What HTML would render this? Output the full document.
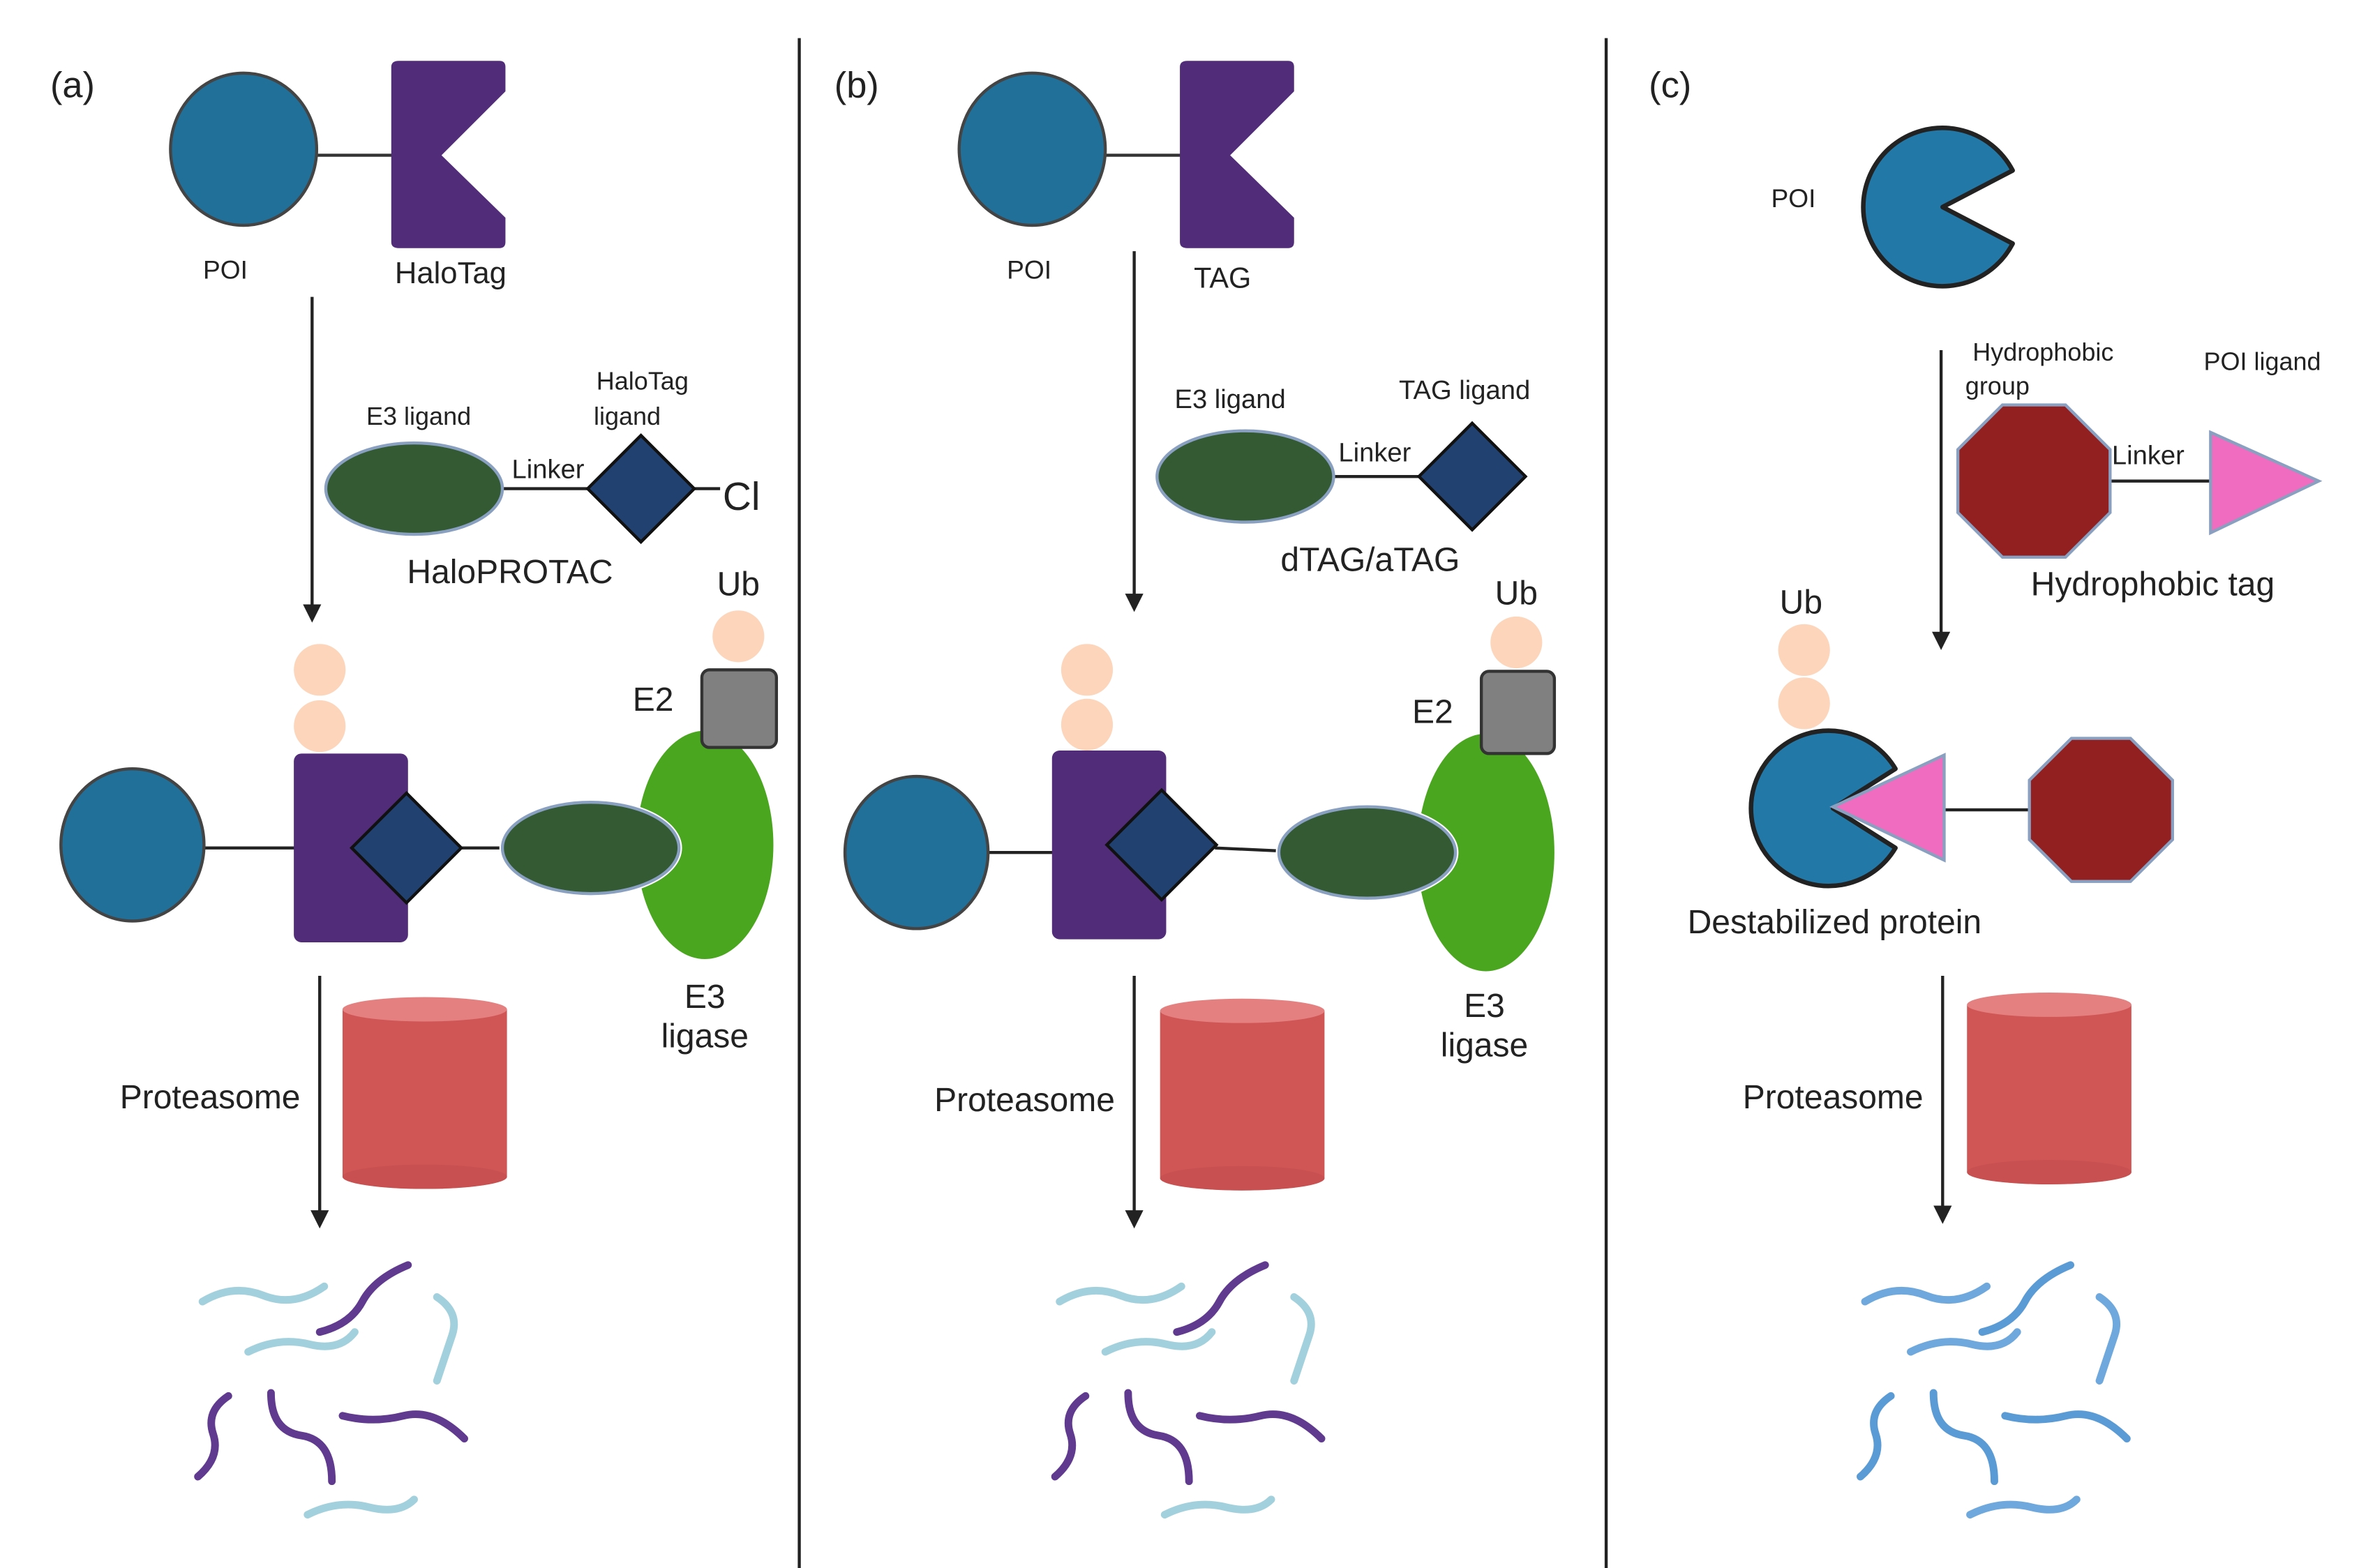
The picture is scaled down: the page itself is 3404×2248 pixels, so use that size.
<!DOCTYPE html>
<html><head><meta charset="utf-8"><style>
html,body{margin:0;padding:0;background:#fff}
svg{display:block}
text{font-family:"Liberation Sans",sans-serif;fill:#222}
</style></head><body>
<svg width="3404" height="2248" viewBox="0 0 1560 1030" preserveAspectRatio="none" xmlns="http://www.w3.org/2000/svg">
<defs>
<marker id="ah" markerWidth="12" markerHeight="12" refX="6" refY="6" orient="auto" markerUnits="userSpaceOnUse" viewBox="0 0 12 12"><path d="M0,0 L12,6 L0,12 z" fill="#222"/></marker>
<g id="halo">
<path d="M262,40 H328 Q332,40 332,44 V60 L290,102 L332,143 V159 Q332,163 328,163 H262 Q257,163 257,159 V44 Q257,40 262,40 z" fill="#512c78"/>
</g>
<g id="sq">
<path d="M133,855 q20,-12 40,-4 t40,-6" />
<path d="M287,852 q15,10 10,25 t-10,30" />
<path d="M163,888 q20,-10 40,-5 t30,-8" />
<path d="M202,995 q20,-10 40,-5 t30,-5" />
</g>
<g id="sq2">
<path d="M210,875 q20,-5 28,-20 t30,-24" />
<path d="M150,917 q-15,10 -10,25 t-10,28" />
<path d="M178,915 q0,25 20,28 t20,30" />
<path d="M225,930 q20,5 40,0 t40,15" />
</g>
<g id="cyl">
<path d="M0,8 V118 A54,8 0 0 0 108,118 V8 z" fill="#d05656"/>
<ellipse cx="54" cy="8" rx="54" ry="8" fill="#e58080"/>
<ellipse cx="54" cy="118" rx="54" ry="8" fill="#c04a4a" opacity="0.5"/>
</g>
</defs>

<line x1="525" y1="25" x2="525" y2="1030" stroke="#222" stroke-width="2"/>
<line x1="1055" y1="25" x2="1055" y2="1030" stroke="#222" stroke-width="2"/>

<!-- ===== Panel A ===== -->
<text x="33" y="64" font-size="24">(a)</text>
<line x1="208" y1="102" x2="258" y2="102" stroke="#333" stroke-width="2"/>
<ellipse cx="160" cy="98" rx="48" ry="50" fill="#21709a" stroke="#444" stroke-width="2"/>
<use href="#halo"/>
<text x="148" y="183" font-size="17" text-anchor="middle">POI</text>
<text x="296" y="186" font-size="20" text-anchor="middle">HaloTag</text>
<line x1="205" y1="195" x2="205" y2="403" stroke="#222" stroke-width="2" marker-end="url(#ah)"/>
<text x="275" y="279" font-size="16.5" text-anchor="middle">E3 ligand</text>
<text x="422" y="256" font-size="16.5" text-anchor="middle">HaloTag</text>
<text x="412" y="279" font-size="16.5" text-anchor="middle">ligand</text>
<line x1="330" y1="321" x2="390" y2="321" stroke="#222" stroke-width="2"/>
<line x1="456" y1="321" x2="473" y2="321" stroke="#222" stroke-width="2"/>
<ellipse cx="272" cy="321" rx="58" ry="30" fill="#335a32" stroke="#8aa0c0" stroke-width="2"/>
<polygon points="421,286 456,321 421,356 386,321" fill="#214270" stroke="#111" stroke-width="2"/>
<text x="360" y="314" font-size="17.5" text-anchor="middle">Linker</text>
<text x="487" y="335" font-size="26" text-anchor="middle">Cl</text>
<text x="335" y="383" font-size="22" text-anchor="middle">HaloPROTAC</text>
<text x="485" y="391" font-size="22" text-anchor="middle">Ub</text>
<circle cx="485" cy="418" r="17" fill="#fcd5bb"/>
<circle cx="210" cy="440" r="17" fill="#fcd5bb"/>
<circle cx="210" cy="477" r="17" fill="#fcd5bb"/>
<text x="429" y="467" font-size="22" text-anchor="middle">E2</text>
<ellipse cx="463" cy="555" rx="45" ry="75" fill="#4ba61f"/>
<rect x="461" y="440" width="49" height="51" rx="5" fill="#808080" stroke="#333" stroke-width="2"/>
<line x1="134" y1="557" x2="195" y2="557" stroke="#222" stroke-width="2"/>
<ellipse cx="87" cy="555" rx="47" ry="50" fill="#21709a" stroke="#444" stroke-width="2"/>
<rect x="193" y="495" width="75" height="124" rx="5" fill="#512c78"/>
<line x1="303" y1="557" x2="332" y2="557" stroke="#222" stroke-width="2"/>
<polygon points="267,521 303,557 267,593 231,557" fill="#214270" stroke="#111" stroke-width="2"/>
<ellipse cx="388" cy="557" rx="60" ry="32" fill="#fff"/>
<ellipse cx="388" cy="557" rx="58" ry="30" fill="#335a32" stroke="#8aa0c0" stroke-width="2"/>
<text x="463" y="662" font-size="22" text-anchor="middle">E3</text>
<text x="463" y="688" font-size="22" text-anchor="middle">ligase</text>
<line x1="210" y1="641" x2="210" y2="801" stroke="#222" stroke-width="2" marker-end="url(#ah)"/>
<text x="138" y="728" font-size="22" text-anchor="middle">Proteasome</text>
<use href="#cyl" transform="translate(225,655)"/>
<g fill="none" stroke-width="5" stroke-linecap="round">
<use href="#sq" stroke="#a2d0dc"/>
<use href="#sq2" stroke="#5f3a8e"/>
</g>

<!-- ===== Panel B ===== -->
<text x="548" y="64" font-size="24">(b)</text>
<line x1="726" y1="102" x2="776" y2="102" stroke="#333" stroke-width="2"/>
<ellipse cx="678" cy="98" rx="48" ry="50" fill="#21709a" stroke="#444" stroke-width="2"/>
<use href="#halo" transform="translate(518,0)"/>
<text x="676" y="183" font-size="17" text-anchor="middle">POI</text>
<text x="803" y="189" font-size="19" text-anchor="middle">TAG</text>
<line x1="745" y1="165" x2="745" y2="396" stroke="#222" stroke-width="2" marker-end="url(#ah)"/>
<text x="808" y="268" font-size="17.5" text-anchor="middle">E3 ligand</text>
<text x="962" y="262" font-size="17.5" text-anchor="middle">TAG ligand</text>
<line x1="876" y1="313" x2="934" y2="313" stroke="#222" stroke-width="2"/>
<ellipse cx="818" cy="313" rx="58" ry="30" fill="#335a32" stroke="#8aa0c0" stroke-width="2"/>
<polygon points="967,278 1002,313 967,348 932,313" fill="#214270" stroke="#111" stroke-width="2"/>
<text x="903" y="303" font-size="17.5" text-anchor="middle">Linker</text>
<text x="900" y="375" font-size="22" text-anchor="middle">dTAG/aTAG</text>
<text x="996" y="397" font-size="22" text-anchor="middle">Ub</text>
<circle cx="996" cy="422" r="17" fill="#fcd5bb"/>
<circle cx="714" cy="440" r="17" fill="#fcd5bb"/>
<circle cx="714" cy="476" r="17" fill="#fcd5bb"/>
<text x="941" y="475" font-size="22" text-anchor="middle">E2</text>
<ellipse cx="976" cy="560" rx="45" ry="78" fill="#4ba61f"/>
<rect x="973" y="441" width="48" height="54" rx="5" fill="#808080" stroke="#333" stroke-width="2"/>
<line x1="649" y1="560" x2="693" y2="560" stroke="#222" stroke-width="2"/>
<ellipse cx="602" cy="560" rx="47" ry="50" fill="#21709a" stroke="#444" stroke-width="2"/>
<rect x="691" y="493" width="75" height="124" rx="5" fill="#512c78"/>
<line x1="798" y1="557" x2="842" y2="559" stroke="#222" stroke-width="2"/>
<polygon points="763,519 799,555 763,591 727,555" fill="#214270" stroke="#111" stroke-width="2"/>
<ellipse cx="898" cy="560" rx="60" ry="32" fill="#fff"/>
<ellipse cx="898" cy="560" rx="58" ry="30" fill="#335a32" stroke="#8aa0c0" stroke-width="2"/>
<text x="975" y="668" font-size="22" text-anchor="middle">E3</text>
<text x="975" y="694" font-size="22" text-anchor="middle">ligase</text>
<line x1="745" y1="641" x2="745" y2="801" stroke="#222" stroke-width="2" marker-end="url(#ah)"/>
<text x="673" y="730" font-size="22" text-anchor="middle">Proteasome</text>
<use href="#cyl" transform="translate(762,656)"/>
<g fill="none" stroke-width="5" stroke-linecap="round" transform="translate(563,0)">
<use href="#sq" stroke="#a2d0dc"/>
<use href="#sq2" stroke="#5f3a8e"/>
</g>

<!-- ===== Panel C ===== -->
<text x="1083" y="64" font-size="24">(c)</text>
<text x="1178" y="136" font-size="17" text-anchor="middle">POI</text>
<path d="M1276,136 L1322,112 A52,52 0 1 0 1322,160 z" fill="#2279a8" stroke="#222" stroke-width="3" stroke-linejoin="round"/>
<line x1="1275" y1="230" x2="1275" y2="421" stroke="#222" stroke-width="2" marker-end="url(#ah)"/>
<text x="1342" y="237" font-size="16.5" text-anchor="middle">Hydrophobic</text>
<text x="1312" y="259" font-size="16.5" text-anchor="middle">group</text>
<text x="1486" y="243" font-size="16.5" text-anchor="middle">POI ligand</text>
<line x1="1384" y1="316" x2="1454" y2="316" stroke="#222" stroke-width="2"/>
<polygon points="1356.7,266 1386,295.3 1386,336.7 1356.7,366 1315.3,366 1286,336.7 1286,295.3 1315.3,266" fill="#922020" stroke="#8aa0c0" stroke-width="2"/>
<polygon points="1452,284 1523,316 1452,350" fill="#f06cc0" stroke="#8aa0c0" stroke-width="2"/>
<text x="1411" y="305" font-size="17.5" text-anchor="middle">Linker</text>
<text x="1414" y="391" font-size="22" text-anchor="middle">Hydrophobic tag</text>
<text x="1183" y="403" font-size="22" text-anchor="middle">Ub</text>
<circle cx="1185" cy="427" r="17" fill="#fcd5bb"/>
<circle cx="1185" cy="462" r="17" fill="#fcd5bb"/>
<path d="M1204,531 L1245,505 A51,51 0 1 0 1245,557 z" fill="#2279a8" stroke="#222" stroke-width="3" stroke-linejoin="round"/>
<line x1="1277" y1="532" x2="1335" y2="532" stroke="#222" stroke-width="2"/>
<polygon points="1204,530 1277,496 1277,565" fill="#f06cc0" stroke="#8aa0c0" stroke-width="2"/>
<polygon points="1399.4,485 1427,512.5 1427,551.5 1399.4,579 1360.6,579 1333,551.5 1333,512.5 1360.6,485" fill="#922020" stroke="#8aa0c0" stroke-width="2"/>
<text x="1205" y="613" font-size="22" text-anchor="middle">Destabilized protein</text>
<line x1="1276" y1="641" x2="1276" y2="798" stroke="#222" stroke-width="2" marker-end="url(#ah)"/>
<text x="1204" y="728" font-size="22" text-anchor="middle">Proteasome</text>
<use href="#cyl" transform="translate(1292,652)"/>
<g fill="none" stroke-width="5" stroke-linecap="round" transform="translate(1092,0)">
<use href="#sq" stroke="#6fa8dc"/>
<use href="#sq2" stroke="#5b9bd5"/>
</g>
</svg>
</body></html>
